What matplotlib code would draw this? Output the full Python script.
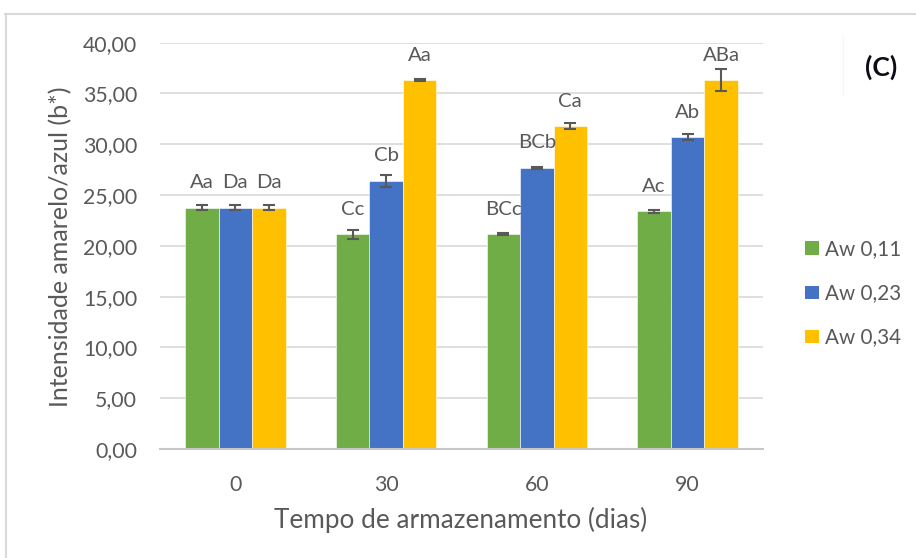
import matplotlib
matplotlib.use("Agg")
import matplotlib.pyplot as plt
from matplotlib.lines import Line2D
from matplotlib.patches import Rectangle
import numpy as np

plt.rcParams['font.family'] = ['Lato', 'DejaVu Sans']

categories = ["0", "30", "60", "90"]
series_names = ["Aw 0,11", "Aw 0,23", "Aw 0,34"]
aw011 = [23.75, 21.15, 21.15, 23.40]
aw023 = [23.75, 26.40, 27.70, 30.70]
aw034 = [23.75, 36.30, 31.80, 36.30]
err011 = [0.25, 0.45, 0.10, 0.15]
err023 = [0.25, 0.60, 0.10, 0.30]
err034 = [0.25, 0.10, 0.25, 1.10]
lab011 = ["Aa", "Cc", "BCc", "Ac"]
lab023 = ["Da", "Cb", "BCb", "Ab"]
lab034 = ["Da", "Aa", "Ca", "ABa"]
yticks = [0, 5, 10, 15, 20, 25, 30, 35, 40]
ytick_labels = ["0,00", "5,00", "10,00", "15,00", "20,00", "25,00", "30,00", "35,00", "40,00"]

colors = ["#70AD47", "#4472C4", "#FFC000"]
text_color = "#595959"

W, H = 916, 558
fig = plt.figure(figsize=(W/100, H/100), dpi=100)
renderer = fig.canvas.get_renderer()


def fit_size(text, target_px, weight='normal'):
    t = fig.text(0, 0, text, fontsize=10, fontweight=weight)
    wpx = t.get_window_extent(renderer).width
    t.remove()
    return 10 * target_px / wpx


tick_fs = fit_size("40,00", 54)
ylab_fs = fit_size("Intensidade amarelo/azul (b*)", 321)
xlab_fs = fit_size("Tempo de armazenamento (dias)", 373)
leg_fs = fit_size("Aw 0,11", 76)
ann_fs = fit_size("ABa", 37)
c_fs = fit_size("(C)", 32, 'bold')

L, R, T, B = 160, 763, 42.7, 449
ax = fig.add_axes([L/W, 1-B/H, (R-L)/W, (B-T)/H])

x = np.arange(len(categories))
w = 0.222
vals = [aw011, aw023, aw034]
errs = [err011, err023, err034]
labs = [lab011, lab023, lab034]
for i in range(3):
    pos = x + (i-1)*w
    ax.bar(pos, vals[i], width=w, color=colors[i], edgecolor='white', linewidth=0.4, zorder=2)
    ax.errorbar(pos, vals[i], yerr=errs[i], fmt='none', ecolor='#595959', elinewidth=1.5,
                capsize=4.5, capthick=1.5, zorder=3)
    for p, v, l in zip(pos, vals[i], labs[i]):
        ax.annotate(l, (p, v), xytext=(0, 14), textcoords='offset points', ha='center',
                    va='baseline', fontsize=ann_fs, color=text_color)

ax.set_xlim(-0.5, 3.5)
ax.set_ylim(0, 40)
ax.set_yticks(yticks)
ax.set_yticklabels(ytick_labels)
ax.set_xticks(x)
ax.set_xticklabels(categories)
ax.tick_params(axis='y', length=0, labelsize=tick_fs, colors=text_color, pad=16.5)
ax.tick_params(axis='x', length=0, labelsize=tick_fs, colors=text_color, pad=18.5)
ax.grid(axis='y', color='#d9d9d9', linewidth=1.2, zorder=0)
ax.set_axisbelow(True)
for s in ['top', 'right', 'left']:
    ax.spines[s].set_visible(False)
ax.spines['bottom'].set_color('#c8c8c8')
ax.spines['bottom'].set_linewidth(1.5)

fig.text(61/W, 1-246.5/H, "Intensidade amarelo/azul (b*)", fontsize=ylab_fs, color=text_color,
         rotation=90, ha='center', va='center')
fig.text(461/W, 1-528/H, "Tempo de armazenamento (dias)", fontsize=xlab_fs, color=text_color,
         ha='center', va='baseline')

# legend
rows = [248, 292, 336]
for c, name, yc in zip(colors, series_names, rows):
    fig.add_artist(Rectangle((805/W, 1-(yc+6.5)/H), 13.5/W, 13/H, facecolor=c,
                             edgecolor='none', transform=fig.transFigure))
    fig.text(825/W, 1-(yc+7)/H, name, fontsize=leg_fs, color=text_color,
             ha='left', va='baseline')

fig.text(881/W, 1-67.5/H, "(C)", fontsize=c_fs, fontweight='bold', color='#0d0d1a',
         ha='center', va='center')

fig.add_artist(Line2D([5/W, 1], [1-13.5/H, 1-13.5/H], color='#d9d9d9', linewidth=1.5,
                      transform=fig.transFigure))
fig.add_artist(Line2D([5.5/W, 5.5/W], [0, 1-13.5/H], color='#d9d9d9', linewidth=1.5,
                      transform=fig.transFigure))
fig.add_artist(Line2D([843/W, 843/W], [1-37/H, 1-95/H], color='#f5f5f5', linewidth=1,
                      transform=fig.transFigure))

fig.savefig("out.png", dpi=100)
